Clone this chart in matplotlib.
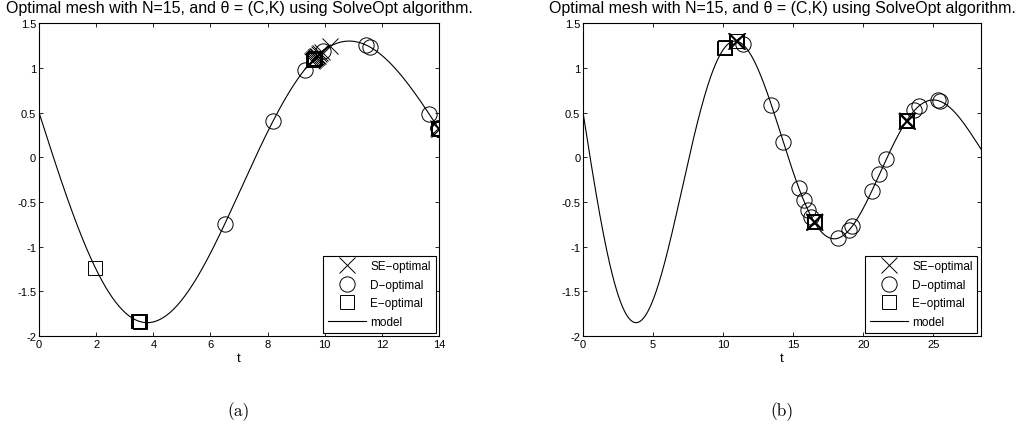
import numpy as np
import matplotlib
matplotlib.use("Agg")
from matplotlib import pyplot as plt

plt.rcParams['font.family'] = ['Liberation Sans', 'DejaVu Sans']
plt.rcParams['axes.unicode_minus'] = False

# model parameters theta = (C, K) of the damped oscillator, with initial state
C_true = 0.1
K_true = 0.2
y0 = 0.5
v0 = -1.0

title_text = 'Optimal mesh with N=15, and \u03b8 = (C,K) using SolveOpt algorithm.'

# panel (a): time window 0..14
t_end_a = 14.0
xticks_a = [0, 2, 4, 6, 8, 10, 12, 14]
se_times_a = [9.55, 9.6, 9.62, 9.65, 9.68, 9.7, 9.72, 9.75, 9.8, 9.85, 9.9, 10.2, 14.0, 13.98, 14.0]
d_times_a = [6.5, 8.2, 9.3, 9.95, 11.45, 11.6, 13.65, 14.0, 13.98, 14.0, 14.0, 13.98, 14.0, 14.0, 14.0]
e_times_a = [1.97, 3.45, 3.5, 3.52, 3.48, 3.55, 9.6, 9.65, 9.63, 9.67, 9.6, 14.0, 13.97, 14.0, 13.98]

# panel (b): time window 0..28.4
t_end_b = 28.4
xticks_b = [0, 5, 10, 15, 20, 25]
se_times_b = [10.95, 10.98, 11.0, 10.93, 10.96, 16.45, 16.5, 16.48, 16.52, 16.5,
              23.1, 23.12, 23.08, 23.1, 23.1]
d_times_b = [11.4, 13.45, 14.3, 15.4, 15.75, 16.05, 16.3, 18.2, 19.0, 19.2,
             20.6, 21.15, 21.65, 23.65, 23.95, 25.3, 25.45]
e_times_b = [10.1, 10.13, 10.07, 10.1, 10.95, 10.98, 10.93, 16.45, 16.5, 16.52, 16.48,
             23.1, 23.12, 23.08, 23.1]

yticks = [-2, -1.5, -1, -0.5, 0, 0.5, 1, 1.5]
ytick_labels = ['-2', '-1.5', '-1', '-0.5', '0', '0.5', '1', '1.5']


def model(t):
    # free response of y'' + C y' + K y = 0
    c = C_true / 2.0
    w = np.sqrt(K_true - c ** 2)
    t = np.asarray(t, dtype=float)
    return np.exp(-c * t) * (y0 * np.cos(w * t) + (v0 + c * y0) / w * np.sin(w * t))


def drawPanel(ax, t_end, xticks, se_t, d_t, e_t):
    mk = dict(linestyle='none', color='k', markerfacecolor='none', markeredgewidth=0.7)
    ax.plot(se_t, model(se_t), marker='x', markersize=11, label='SE\u2212optimal', **mk)
    ax.plot(d_t, model(d_t), marker='o', markersize=11, label='D\u2212optimal', **mk)
    ax.plot(e_t, model(e_t), marker='s', markersize=10, label='E\u2212optimal', **mk)
    tt = np.linspace(0, t_end, 800)
    ax.plot(tt, model(tt), color='k', linewidth=0.8, label='model')

    ax.set_xlim(0, t_end)
    ax.set_ylim(-2, 1.5)
    ax.set_xticks(xticks)
    ax.set_yticks(yticks)
    ax.set_yticklabels(ytick_labels)
    ax.tick_params(direction='in', top=True, right=True, labelsize=8, length=3, width=0.6, pad=2)
    for s in ax.spines.values():
        s.set_linewidth(0.8)
    ax.set_xlabel('t', fontsize=9.5, labelpad=2)
    ax.set_title(title_text, fontsize=11.5, pad=8)
    leg = ax.legend(loc='lower right', fontsize=8.5, numpoints=1, handlelength=3.2,
                    fancybox=False, edgecolor='k', framealpha=1, borderaxespad=0.3,
                    labelspacing=0.55, handletextpad=0.4, borderpad=0.4)
    leg.get_frame().set_linewidth(0.8)


fig = plt.figure(figsize=(10.27, 4.31), dpi=100)
ax_a = fig.add_axes([0.038, 0.218, 0.3895, 0.726])
ax_b = fig.add_axes([0.5677, 0.218, 0.3875, 0.726])

drawPanel(ax_a, t_end_a, xticks_a, se_times_a, d_times_a, e_times_a)
drawPanel(ax_b, t_end_b, xticks_b, se_times_b, d_times_b, e_times_b)

fig.text(0.038 + 0.3895 / 2, 0.044, '(a)', ha='center', va='center', fontsize=12.5, family='cmr10')
fig.text(0.5677 + 0.3875 / 2, 0.044, '(b)', ha='center', va='center', fontsize=12.5, family='cmr10')

fig.savefig('out.png', dpi=100)
